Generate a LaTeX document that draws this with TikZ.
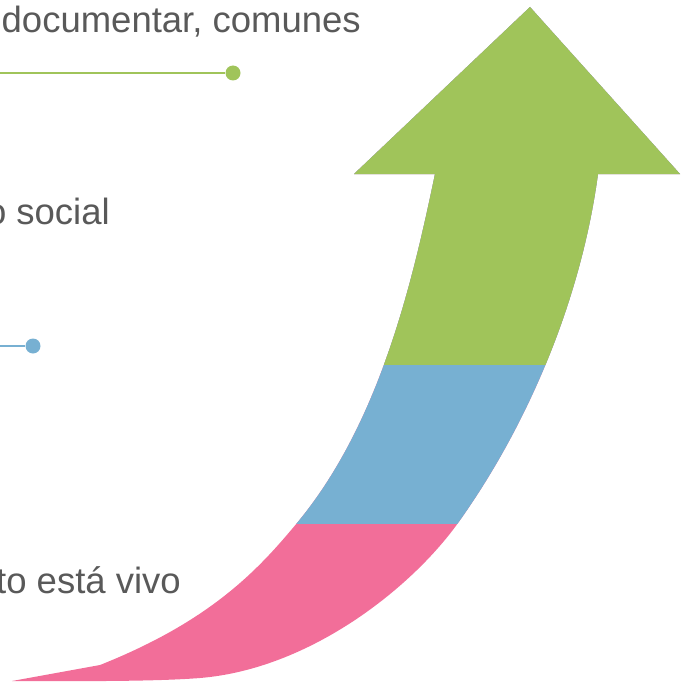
\documentclass[tikz,border=0pt]{standalone}
\usepackage{fontspec}
\setmainfont{Liberation Sans}
\definecolor{agreen}{RGB}{160,196,90}
\definecolor{ablue}{RGB}{119,176,210}
\definecolor{apink}{RGB}{242,110,153}
\definecolor{agray}{RGB}{89,89,89}
\begin{document}
\begin{tikzpicture}[x=1pt,y=-1pt,
  lbl/.style={anchor=base east,inner sep=0pt,text=agray,font=\fontsize{36.5}{44}\selectfont},
  dotg/.style={circle,fill=agreen,inner sep=0pt,minimum size=15pt},
  dotb/.style={circle,fill=ablue,inner sep=0pt,minimum size=15pt}]
\useasboundingbox (0,0) rectangle (681,682);
\clip (0,0) rectangle (681,682);
\def\arrowpath{(354,174) -- (530,7) -- (680,174) -- (598,174)
  .. controls (580.6,302.7) and (526,428) .. (458,523)
  .. controls (411.6,587.8) and (310,669) .. (200,678)
  .. controls (150,682) and (60,681) .. (12,681)
  -- (100,665)
  .. controls (211.6,620.6) and (258.6,569.2) .. (297,523)
  .. controls (380,423) and (412.5,281.7) .. (435,174)
  -- cycle}
\fill[apink] \arrowpath;
\begin{scope}
  \clip (0,0) rectangle (681,523);
  \fill[ablue] \arrowpath;
\end{scope}
\begin{scope}
  \clip (0,0) rectangle (681,364);
  \fill[agreen] \arrowpath;
\end{scope}
% labels
\node[lbl] (t1) at (361,33) {documentar, comunes};
\node[lbl] (t2) at (110,224) {o social};
\node[lbl] (t3) at (181,593) {to está vivo};
% connectors
\coordinate (g0) at (-2,73);
\node[dotg] (g1) at (233,73) {};
\draw[agreen,line width=2.5pt] (g0) -- (g1);
\coordinate (b0) at (-2,346);
\node[dotb] (b1) at (33,346) {};
\draw[ablue,line width=2.5pt] (b0) -- (b1);
\end{tikzpicture}
\end{document}
